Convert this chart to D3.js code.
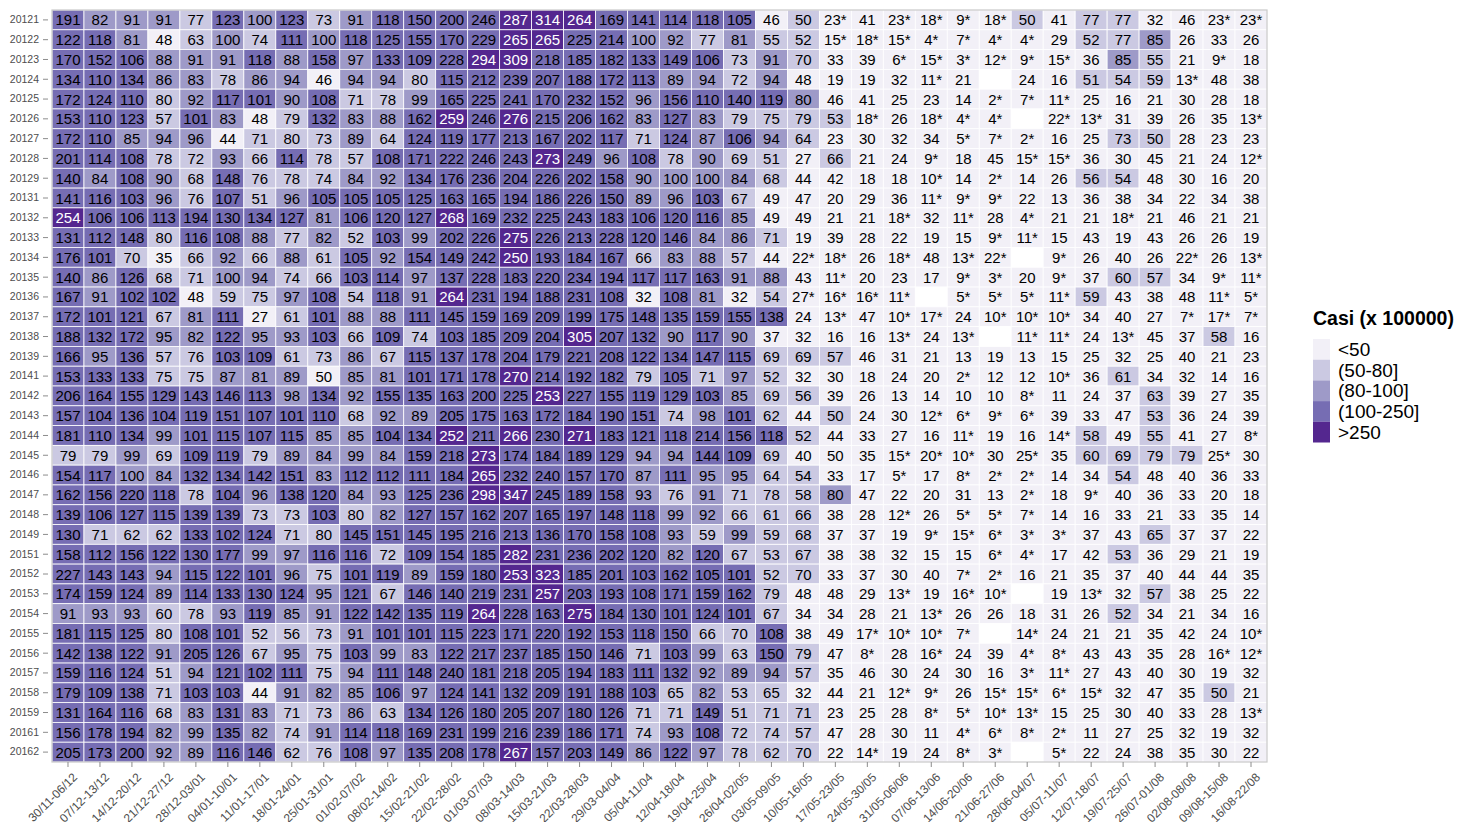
<!DOCTYPE html>
<html>
<head>
<meta charset="utf-8">
<script src="https://cdn.jsdelivr.net/npm/d3@7"></script>
<style>
  body { margin: 0; background: #fff; }
  text { font-family: "Liberation Sans", Arial, sans-serif; }
</style>
</head>
<body>
<div id="chart"></div>
<script>
// weeks on the x axis
const weeks = ["30/11-06/12", "07/12-13/12", "14/12-20/12", "21/12-27/12", "28/12-03/01", "04/01-10/01",
  "11/01-17/01", "18/01-24/01", "25/01-31/01", "01/02-07/02", "08/02-14/02", "15/02-21/02", "22/02-28/02",
  "01/03-07/03", "08/03-14/03", "15/03-21/03", "22/03-28/03", "29/03-04/04", "05/04-11/04", "12/04-18/04",
  "19/04-25/04", "26/04-02/05", "03/05-09/05", "10/05-16/05", "17/05-23/05", "24/05-30/05", "31/05-06/06",
  "07/06-13/06", "14/06-20/06", "21/06-27/06", "28/06-04/07", "05/07-11/07", "12/07-18/07", "19/07-25/07",
  "26/07-01/08", "02/08-08/08", "09/08-15/08", "16/08-22/08"];

// seasons on the y axis
const periods = ["20121", "20122", "20123", "20124", "20125", "20126", "20127", "20128", "20129",
  "20131", "20132", "20133", "20134", "20135", "20136", "20137", "20138", "20139",
  "20141", "20142", "20143", "20144", "20145", "20146", "20147", "20148", "20149",
  "20151", "20152", "20153", "20154", "20155", "20156", "20157", "20158", "20159",
  "20161", "20162"];

// one string per period, one token per week; "*" = flagged value, "-" = missing
const casiRows = [
  "191 82 91 91 77 123 100 123 73 91 118 150 200 246 287 314 264 169 141 114 118 105 46 50 23* 41 23* 18* 9* 18* 50 41 77 77 32 46 23* 23*",
  "122 118 81 48 63 100 74 111 100 118 125 155 170 229 265 265 225 214 100 92 77 81 55 52 15* 18* 15* 4* 7* 4* 4* 29 52 77 85 26 33 26",
  "170 152 106 88 91 91 118 88 158 97 133 109 228 294 309 218 185 182 133 149 106 73 91 70 33 39 6* 15* 3* 12* 9* 15* 36 85 55 21 9* 18",
  "134 110 134 86 83 78 86 94 46 94 94 80 115 212 239 207 188 172 113 89 94 72 94 48 19 19 32 11* 21 - 24 16 51 54 59 13* 48 38",
  "172 124 110 80 92 117 101 90 108 71 78 99 165 225 241 170 232 152 96 156 110 140 119 80.4 46 41 25 23 14 2* 7* 11* 25 16 21 30 28 18",
  "153 110 123 57 101 83 48 79 132 83 88 162 259 246 276 215 206 162 83 127 83 79 75 79 53 18* 26 18* 4* 4* - 22* 13* 31 39 26 35 13*",
  "172 110 85 94 96 44 71 80 73 89 64 124 119 177 213 167 202 117 71 124 87 106 94 64 23 30 32 34 5* 7* 2* 16 25 73 50 28 23 23",
  "201 114 108 78 72 93 66 114 78 57 108 171 222 246 243 273 249 96 108 78 90 69 51 27 66 21 24 9* 18 45 15* 15* 36 30 45 21 24 12*",
  "140 84 108 90 68 148 76 78 74 84 92 134 176 236 204 226 202 158 90 100 100 84 68 44 42 18 18 10* 14 2* 14 26 56 54 48 30 16 20",
  "141 116 103 96 76 107 51 96 105 105 105 125 163 165 194 186 226 150 89 96 103 67 49 47 20 29 36 11* 9* 9* 22 13 36 38 34 22 34 38",
  "254 106 106 113 194 130 134 127 81 106 120 127 268 169 232 225 243 183 106 120 116 85 49 49 21 21 18* 32 11* 28 4* 21 21 18* 21 46 21 21",
  "131 112 148 80 116 108 88 77 82 52 103 99 202 226 275 226 213 228 120 146 84 86 71 19 39 28 22 19 15 9* 11* 15 43 19 43 26 26 19",
  "176 101 70 35 66 92 66 88 61 105 92 154 149 242 250.3 193 184 167 66 83 88 57 44 22* 18* 26 18* 48 13* 22* - 9* 26 40 26 22* 26 13*",
  "140 86 126 68 71 100 94 74 66 103 114 97 137 228 183 220 234 194 117 117 163 91 88 43 11* 20 23 17 9* 3* 20 9* 37 60 57 34 9* 11*",
  "167 91 102 102 48 59 75 97 108 54 118 91 264 231 194 188 231 108 32 108 81 32 54 27* 16* 16* 11* - 5* 5* 5* 11* 59 43 38 48 11* 5*",
  "172 101 121 67 81 111 27 61 101 88 88 111 145 159 169 209 199 175 148 135 159 155 138 24 13* 47 10* 17* 24 10* 10* 10* 34 40 27 7* 17* 7*",
  "188 132 172 95 82 122 95 93 103 66 109 74 103 185 209 204 305 207 132 90 117 90 37 32 16 16 13* 24 13* - 11* 11* 24 13* 45 37 58 16",
  "166 95 136 57 76 103 109 61 73 86 67 115 137 178 204 179 221 208 122 134 147 115 69 69 57 46 31 21 13 19 13 15 25 32 25 40 21 23",
  "153 133 133 75 75 87 81 89 49.6 85 81 101 171 178 270 214 192 182 79 105 71 97 52 32 30 18 24 20 2* 12 12 10* 36 61 34 32 14 16",
  "206 164 155 129 143 146 113 98 134 92 155 135 163 200 225 253 227 155 119 129 103 85 69 56 39 26 13 14 10 10 8* 11 24 37 63 39 27 35",
  "157 104 136 104 119 151 107 101 110 68 92 89 205 175 163 172 184 190 151 74 98 101 62 44 50 24 30 12* 6* 9* 6* 39 33 47 53 36 24 39",
  "181 110 134 99 101 115 107 115 85 85 104 134 252 211 266 230 271 183 121 118 214 156 118 52 44 33 27 16 11* 19 16 14* 58 49 55 41 27 8*",
  "79 79 99 69 109 119 79 89 84 99 84 159 218 273 174 184 189 129 94 94 144 109 69 40 49.7 35 15* 20* 10* 30 25* 35 60 69 79 79 25* 30",
  "154 117 100 84 132 134 142 151 83 112 112 111 184 265 232 240 157 170 87 111 95 95 64 54 33 17 5* 17 8* 2* 2* 14 34 54 48 40 36 33",
  "162 156 220 118 78 104 96 138 120 84 93 125 236 298 347 245 189 158 93 76 91 71 78 58 80.4 47 22 20 31 13 2* 18 9* 40 36 33 20 18",
  "139 106 127 115 139 139 73 73 103 80 82 127 157 162 207 165 197 148 118 99 92 66 61 66 38 28 12* 26 5* 5* 7* 14 16 33 21 33 35 14",
  "130 71 62 62 133 102 124 71 80 145 151 145 195 216 213 136 170 158 108 93 59 99 59 68 37 37 19 9* 15* 6* 3* 3* 37 43 65 37 37 22",
  "158 112 156 122 130 177 99 97 116 116 72 109 154 185 282 231 236 202 120 82 120 67 53 67 38 38 32 15 15 6* 4* 17 42 53 36 29 21 19",
  "227 143 143 94 115 122 101 96 75 101 119 89 159 180 253 323 185 201 103 162 105 101 52 70 33 37 30 40 7* 2* 16 21 35 37 40 44 44 35",
  "174 159 124 89 114 133 130 124 95 121 67 146 140 219 231 257 203 193 108 171 159 162 79 48 48 29 13* 19 16* 10* - 19 13* 32 57 38 25 22",
  "91 93 93 60 78 93 119 85 91 122 142 135 119 264 228 163 275 184 130 101 124 101 67 34 34 28 21 13* 26 26 18 31 26 52 34 21 34 16",
  "181 115 125 80 108 101 52 56 73 91 101 101 115 223 171 220 192 153 118 150 66 70 108 38 49 17* 10* 10* 7* - 14* 24 21 21 35 42 24 10*",
  "142 138 122 91 205 126 67 95 75 103 99 83 122 217 237 185 150 146 71 103 99 63 150 79 47 8* 28 16* 24 39 4* 8* 43 43 35 28 16* 12*",
  "159 116 124 51 94 121 102 111 75 94 111 148 240 181 218 205 194 183 111 132 92 89 94 57 35 46 30 24 30 16 3* 11* 27 43 40 30 19 32",
  "179 109 138 71 103 103 44 91 82 85 106 97 124 141 132 209 191 188 103 65 82 53 65 32 44 21 12* 9* 26 15* 15* 6* 15* 32 47 35 50 21",
  "131 164 116 68 83 131 83 71 73 86 63 134 126 180 205 207 180 126 71 71 149 51 71 71 23 25 28 8* 5* 10* 13* 15 25 30 40 33 28 13*",
  "156 178 194 82 99 135 82 74 91 114 118 169 231 199 216 239 186 171 74 93 108 72 74 57 47 28 30 11 4* 6* 8* 2* 11 27 25 32 19 32",
  "205 173 200 92 89 116 146 62 76 108 97 135 208 178 267 157 203 149 86 122 97 78 62 70 22 14* 19 24 8* 3* - 5* 22 24 38 35 30 22"
];

const binLabels = ["<50", "(50-80]", "(80-100]", "(100-250]", ">250"];
const binColors = ["#f2f0f7", "#cbc9e2", "#9e9ac8", "#766db3", "#54278f"];

const width = 1462, height = 822;
const margin = { left: 52, right: 195, top: 10, bottom: 60 };

// flatten the rows into cells
const cells = [];
casiRows.forEach((row, i) => {
  row.trim().split(/\s+/).forEach((tok, j) => {
    const missing = tok === "-";
    cells.push({
      period: periods[i],
      week: weeks[j],
      value: missing ? null : parseFloat(tok),
      flag: tok.endsWith("*")
    });
  });
});

// bins: <50 | [50,80] | (80,100] | (100,250] | >250
const binOf = v => v < 50 ? 0 : d3.bisectLeft([80, 100, 250], v) + 1;

const svg = d3.select("#chart").append("svg")
  .attr("width", width)
  .attr("height", height);

const x = d3.scaleBand().domain(weeks).range([margin.left, width - margin.right]).padding(0);
const y = d3.scaleBand().domain(periods).range([margin.top, height - margin.bottom]).padding(0);

// tiles
svg.append("g").selectAll("rect")
  .data(cells)
  .join("rect")
  .attr("x", d => x(d.week))
  .attr("y", d => y(d.period))
  .attr("width", x.bandwidth())
  .attr("height", y.bandwidth())
  .attr("fill", d => d.value === null ? "#ffffff" : binColors[binOf(d.value)])
  .attr("stroke", "#ffffff")
  .attr("stroke-width", 0.8);

// labels in the tiles
svg.append("g").selectAll("text")
  .data(cells.filter(d => d.value !== null))
  .join("text")
  .attr("x", d => x(d.week) + x.bandwidth() / 2)
  .attr("y", d => y(d.period) + y.bandwidth() / 2)
  .attr("text-anchor", "middle")
  .attr("dominant-baseline", "central")
  .attr("font-size", "15px")
  .attr("fill", d => binOf(d.value) === 4 ? "#ffffff" : "#000000")
  .text(d => Math.round(d.value) + (d.flag ? "*" : ""));

// panel border
svg.append("rect")
  .attr("x", margin.left)
  .attr("y", margin.top)
  .attr("width", width - margin.left - margin.right)
  .attr("height", height - margin.top - margin.bottom)
  .attr("fill", "none")
  .attr("stroke", "#c8c8c8")
  .attr("stroke-width", 1.2);

// y axis
const yAxis = svg.append("g")
  .attr("transform", `translate(${margin.left - 4},0)`)
  .call(d3.axisLeft(y).tickSize(5).tickPadding(4));
yAxis.select(".domain").remove();
yAxis.selectAll("line").attr("stroke", "#8c8c8c");
yAxis.selectAll("text").attr("font-size", "10.5px").attr("fill", "#4d4d4d")
  .style("font-family", "'Liberation Sans', Arial, sans-serif");

// x axis
const xAxis = svg.append("g")
  .attr("transform", `translate(0,${height - margin.bottom})`)
  .call(d3.axisBottom(x).tickSize(5).tickPadding(3));
xAxis.select(".domain").remove();
xAxis.selectAll("line").attr("stroke", "#8c8c8c");
xAxis.selectAll("text")
  .attr("font-size", "12px")
  .attr("fill", "#4d4d4d")
  .style("font-family", "'Liberation Sans', Arial, sans-serif")
  .attr("text-anchor", "end")
  .attr("x", 0).attr("y", 0).attr("dy", "0.7em")
  .attr("transform", "translate(4,10) rotate(-45)");

// legend
const legend = svg.append("g").attr("transform", "translate(1313,0)");
legend.append("text")
  .attr("x", 0).attr("y", 325)
  .attr("font-size", "19.5px")
  .attr("font-weight", "bold")
  .text("Casi (x 100000)");

const keyH = 20.7, keyTop = 339;
legend.selectAll("rect.key")
  .data(binLabels)
  .join("rect")
  .attr("class", "key")
  .attr("x", 0)
  .attr("y", (d, i) => keyTop + i * keyH)
  .attr("width", 17)
  .attr("height", keyH)
  .attr("fill", (d, i) => binColors[i]);

legend.selectAll("text.lab")
  .data(binLabels)
  .join("text")
  .attr("class", "lab")
  .attr("x", 25)
  .attr("y", (d, i) => keyTop + i * keyH + keyH / 2)
  .attr("dominant-baseline", "central")
  .attr("font-size", "19px")
  .text(d => d);
</script>
</body>
</html>
